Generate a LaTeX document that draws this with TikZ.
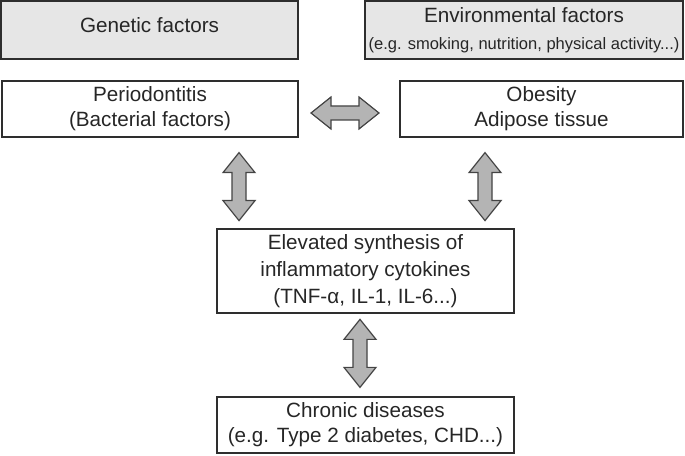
\documentclass[tikz,border=0pt]{standalone}
\usepackage{fontspec}
\setmainfont{Liberation Sans}
\usetikzlibrary{calc}
\definecolor{boxline}{HTML}{2E2E2E}
\definecolor{txt}{HTML}{262626}
\definecolor{topfill}{HTML}{E6E6E6}
\definecolor{arrfill}{HTML}{B4B4B4}
\definecolor{arrline}{HTML}{444444}
\newcommand{\mysmalltext}{\fontsize{12.4pt}{15.5pt}\selectfont}
\begin{document}
\begin{tikzpicture}[x=0.75pt,y=-0.75pt,
  box/.style={draw=boxline, line width=1.5pt, inner sep=0pt, align=center,
    text=txt, font=\fontsize{15.5pt}{18.75pt}\selectfont},
  topbox/.style={box, fill=topfill},
  arrsty/.style={draw=arrline, fill=arrfill, line width=0.9pt, line join=miter},
  vdarrow/.pic={\path[arrsty] (-7,-14)--(-7,14)--(-16,14)--(0,34)--(16,14)--(7,14)--(7,-14)--(16,-14)--(0,-34)--(-16,-14)--cycle;}
]
\useasboundingbox (0,0) rectangle (685,456);
\node[topbox, minimum width=222.75pt, minimum height=43.5pt] (gen) at (149.5,30) {};
\node[text=txt, font=\fontsize{15.5pt}{18.75pt}\selectfont] (gentxt) at (149.5,25) {Genetic factors};
\node[topbox, minimum width=238.5pt, minimum height=43.5pt] (env) at (524,30)
  {Environmental factors\\[1.5pt]{\mysmalltext(e.g. smoking, nutrition, physical activity...)}};
\node[box, minimum width=222pt, minimum height=42pt] (perio) at (150,109)
  {Periodontitis\\(Bacterial factors)};
\node[box, minimum width=212.25pt, minimum height=42pt] (obes) at (541.5,109)
  {Obesity\\Adipose tissue};
\node[box, minimum width=222.75pt, minimum height=63pt, font=\fontsize{15.5pt}{20pt}\selectfont] (elev) at (365.5,271)
  {Elevated synthesis of\\inflammatory cytokines\\(TNF-α, IL-1, IL-6...)};
\node[box, minimum width=222.75pt, minimum height=42pt] (chron) at (365.5,425)
  {Chronic diseases\\(e.g. Type 2 diabetes, CHD...)};
\coordinate (lx) at (239,0);
\coordinate (rx) at (485,0);
\coordinate (bx) at (360,0);
\coordinate (c1) at ($(perio.east)!0.46!(obes.west)+(0,4)$);
\coordinate (c2) at ($(perio.south -| lx)!0.54!(elev.north -| lx)$);
\coordinate (c3) at ($(obes.south -| rx)!0.54!(elev.north -| rx)$);
\coordinate (c4) at ($(elev.south -| bx)!0.48!(chron.north -| bx)$);
\pic[rotate=90] at (c1) {vdarrow};
\pic at (c2) {vdarrow};
\pic at (c3) {vdarrow};
\pic at (c4) {vdarrow};
\end{tikzpicture}
\end{document}
